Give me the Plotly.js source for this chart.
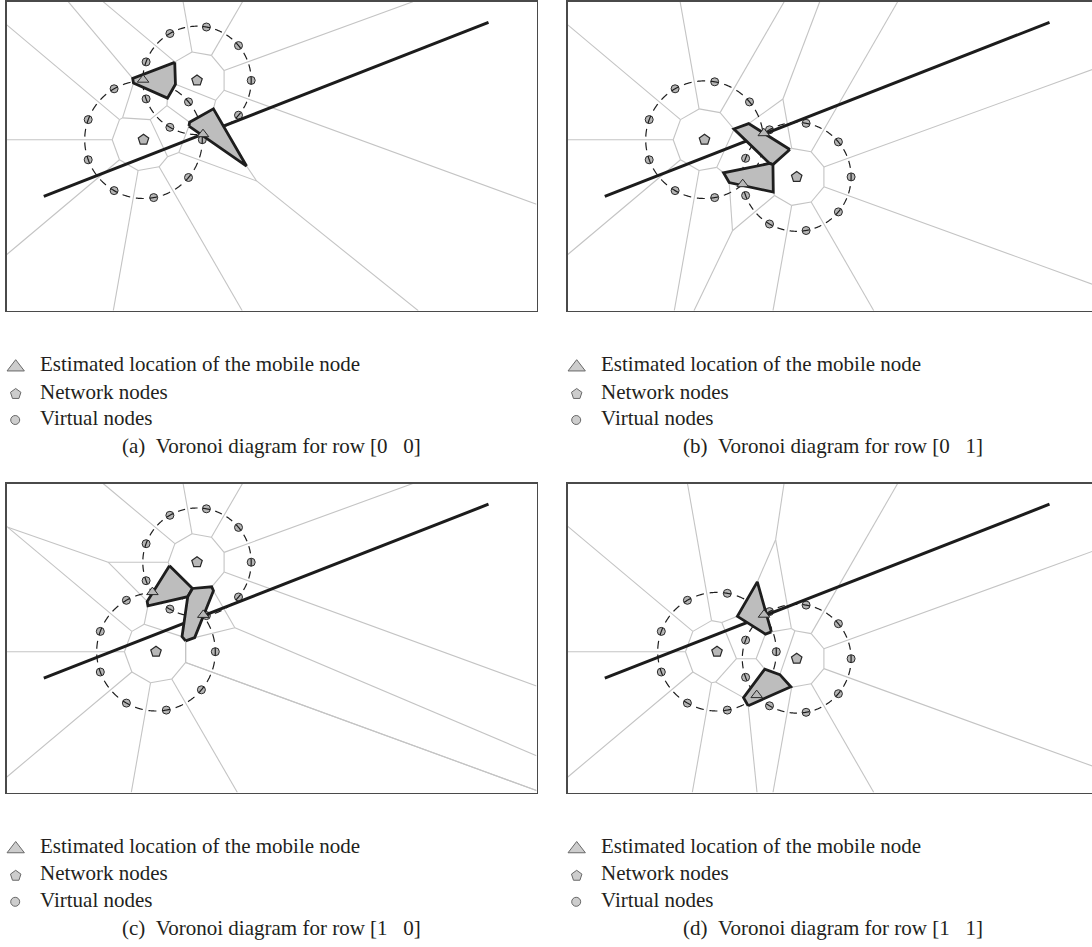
<!DOCTYPE html>
<html><head><meta charset="utf-8">
<script src="https://cdn.plot.ly/plotly-3.0.1.min.js"></script>
<style>html,body{margin:0;padding:0;background:#fff;}</style>
</head><body>
<div id="chart" style="width:1092px;height:947px;"></div>
<script>
// ---------------- DATA (panel units: origin = panel top-left, y grows downward) ----------------
// Network nodes (centres of the virtual-node rings)
const netNames = ['A', 'B', 'C', 'D'];
const net_x = [190.5, 137.0, 149.5, 229.2];
const net_y = [78.7, 138.0, 168.2, 175.2];
const ringRadius = [54.2, 58.8, 59.3, 54.4];

// Virtual nodes of each ring (angles 0,40,...,320 degrees)
const ringA_x = [244.7, 232.0, 199.9, 163.4, 139.6, 139.6, 163.4, 199.9, 232.0];
const ringA_y = [78.7, 43.9, 25.3, 31.8, 60.2, 97.2, 125.6, 132.1, 113.5];
const ringB_x = [195.8, 182.0, 147.2, 107.6, 81.7, 81.7, 107.6, 147.2, 182.0];
const ringB_y = [138.0, 100.2, 80.1, 87.1, 117.9, 158.1, 188.9, 195.9, 175.8];
const ringC_x = [208.8, 194.9, 159.8, 119.9, 93.8, 93.8, 119.9, 159.8, 194.9];
const ringC_y = [168.2, 130.1, 109.8, 116.8, 147.9, 188.5, 219.6, 226.6, 206.3];
const ringD_x = [283.6, 270.9, 238.6, 202.0, 178.1, 178.1, 202.0, 238.6, 270.9];
const ringD_y = [175.2, 140.2, 121.6, 128.1, 156.6, 193.8, 222.3, 228.8, 210.2];

// Panels
const panelLabels = ['(a)', '(b)', '(c)', '(d)'];
const panelRows = [[0, 0], [0, 1], [1, 0], [1, 1]];
const panelRings = [['A', 'B'], ['B', 'D'], ['A', 'C'], ['C', 'D']];
// Estimated locations of the mobile node (two per panel)
const est_x = [[136.6, 196.5], [196.3, 175.2], [145.9, 196.8], [196.5, 189.2]];
const est_y = [[78.0, 132.5], [131.5, 182.5], [108.6, 131.4], [131.2, 211.6]];
// Highlighted Voronoi cells: [ring, virtual-node index]
const filledCells = [[['B', 2], ['A', 7]], [['B', 0], ['B', 8]], [['C', 2], ['C', 1]], [['C', 1], ['C', 8]]];
// Mobile node trajectory
const track_x = [37.3, 482.0];
const track_y = [194.7, 20.7];

const legendLabels = ['Estimated location of the mobile node', 'Network nodes', 'Virtual nodes'];

// ---------------- LAYOUT GEOMETRY ----------------
const FIG_W = 1092, FIG_H = 947;
const PW = 530, PH = 309;
const panelLeft = [6.5, 567.5, 6.5, 567.5];
const panelTop = [1.7, 1.7, 483.5, 483.5];

const ringX = {A: ringA_x, B: ringB_x, C: ringC_x, D: ringD_x};
const ringY = {A: ringA_y, B: ringB_y, C: ringC_y, D: ringD_y};

// ---------------- VORONOI (half-plane clipping) ----------------
function clipPoly(poly, a, b, c) { // keep a*x+b*y <= c
  const out = [];
  const n = poly.length;
  for (let i = 0; i < n; i++) {
    const p = poly[i], q = poly[(i + 1) % n];
    const fp = a * p[0] + b * p[1] - c, fq = a * q[0] + b * q[1] - c;
    if (fp <= 0) out.push(p);
    if ((fp < 0 && fq > 0) || (fp > 0 && fq < 0)) {
      const t = fp / (fp - fq);
      out.push([p[0] + t * (q[0] - p[0]), p[1] + t * (q[1] - p[1])]);
    }
  }
  return out;
}
function voronoiCell(sites, i, W, H) {
  let poly = [[0, 0], [W, 0], [W, H], [0, H]];
  const xi = sites[i][0], yi = sites[i][1];
  for (let j = 0; j < sites.length; j++) {
    if (j === i) continue;
    const xj = sites[j][0], yj = sites[j][1];
    poly = clipPoly(poly, xj - xi, yj - yi, (xj * xj + yj * yj - xi * xi - yi * yi) / 2);
    if (poly.length === 0) break;
  }
  return poly;
}

const traces = [];
const layout = {
  width: FIG_W, height: FIG_H,
  margin: {l: 0, r: 0, t: 0, b: 0, pad: 0},
  paper_bgcolor: '#ffffff', plot_bgcolor: 'rgba(0,0,0,0)',
  showlegend: false, hovermode: false,
  annotations: []
};

const FONT = {family: '"Liberation Serif", "Times New Roman", serif', size: 21, color: '#231f20'};

for (let p = 0; p < 4; p++) {
  const xa = p === 0 ? 'x' : 'x' + (p + 1);
  const ya = p === 0 ? 'y' : 'y' + (p + 1);
  const left = panelLeft[p], top = panelTop[p];
  const visW = Math.min(PW, FIG_W - left);
  layout[p === 0 ? 'xaxis' : 'xaxis' + (p + 1)] = {
    domain: [left / FIG_W, (left + visW) / FIG_W], range: [0, visW], anchor: ya,
    showgrid: false, zeroline: false, showticklabels: false, ticks: '',
    showline: true, mirror: true, linecolor: '#4a4a4a', linewidth: 1.5, fixedrange: true
  };
  layout[p === 0 ? 'yaxis' : 'yaxis' + (p + 1)] = {
    domain: [1 - (top + PH) / FIG_H, 1 - top / FIG_H], range: [PH, 0], anchor: xa,
    showgrid: false, zeroline: false, showticklabels: false, ticks: '',
    showline: true, mirror: visW >= PW, linecolor: '#4a4a4a', linewidth: 1.5, fixedrange: true
  };

  // sites: 2 network nodes then 9 + 9 virtual nodes
  const rings = panelRings[p];
  const sites = [];
  rings.forEach(r => { const k = netNames.indexOf(r); sites.push([net_x[k], net_y[k]]); });
  rings.forEach(r => { for (let k = 0; k < ringX[r].length; k++) sites.push([ringX[r][k], ringY[r][k]]); });

  const cells = sites.map((s, i) => voronoiCell(sites, i, PW, PH));

  // unique interior edges
  const seen = new Set();
  const ex = [], ey = [];
  const eps = 0.01;
  const onBorder = (a, b) =>
    (Math.abs(a[0]) < eps && Math.abs(b[0]) < eps) || (Math.abs(a[0] - PW) < eps && Math.abs(b[0] - PW) < eps) ||
    (Math.abs(a[1]) < eps && Math.abs(b[1]) < eps) || (Math.abs(a[1] - PH) < eps && Math.abs(b[1] - PH) < eps);
  cells.forEach(poly => {
    for (let i = 0; i < poly.length; i++) {
      const a = poly[i], b = poly[(i + 1) % poly.length];
      if (onBorder(a, b)) continue;
      if (Math.hypot(a[0] - b[0], a[1] - b[1]) < 0.05) continue;
      const ka = a[0].toFixed(1) + ',' + a[1].toFixed(1), kb = b[0].toFixed(1) + ',' + b[1].toFixed(1);
      const key = ka < kb ? ka + '|' + kb : kb + '|' + ka;
      if (seen.has(key)) continue;
      seen.add(key);
      ex.push(a[0], b[0], null); ey.push(a[1], b[1], null);
    }
  });
  traces.push({x: ex, y: ey, xaxis: xa, yaxis: ya, type: 'scatter', mode: 'lines',
    line: {color: '#c4c4c4', width: 1.1}, hoverinfo: 'skip'});

  // virtual node markers
  const vx = [], vy = [];
  rings.forEach(r => { vx.push(...ringX[r]); vy.push(...ringY[r]); });
  traces.push({x: vx, y: vy, xaxis: xa, yaxis: ya, type: 'scatter', mode: 'markers',
    marker: {symbol: 'circle', size: 8, color: '#b5b5b5', line: {color: '#2a2a2a', width: 1}}, hoverinfo: 'skip'});

  // dashed rings (dash centred on every virtual node)
  rings.forEach(r => {
    const k = netNames.indexOf(r);
    const cx = net_x[k], cy = net_y[k], rad = ringRadius[k];
    const cxs = [], cys = [];
    for (let t = 0; t <= 720; t++) {
      const ang = t * Math.PI / 360;
      cxs.push(cx + rad * Math.cos(ang)); cys.push(cy - rad * Math.sin(ang));
    }
    const L = 2 * Math.PI * rad / 9;
    const h = (0.0965 * L).toFixed(2), g = (0.14 * L).toFixed(2), d = (0.193 * L).toFixed(2);
    traces.push({x: cxs, y: cys, xaxis: xa, yaxis: ya, type: 'scatter', mode: 'lines',
      line: {color: '#1e1e1e', width: 1.2, simplify: false,
        dash: `${h}px,${g}px,${d}px,${g}px,${d}px,${g}px,${h}px,0px`}, hoverinfo: 'skip'});
  });

  // trajectory
  traces.push({x: track_x, y: track_y, xaxis: xa, yaxis: ya, type: 'scatter', mode: 'lines',
    line: {color: '#1c1c1c', width: 3}, hoverinfo: 'skip'});

  // highlighted cells
  filledCells[p].forEach(fc => {
    const idx = 2 + rings.indexOf(fc[0]) * 9 + fc[1];
    const poly = cells[idx];
    const px = poly.map(q => q[0]), py = poly.map(q => q[1]);
    px.push(px[0]); py.push(py[0]);
    traces.push({x: px, y: py, xaxis: xa, yaxis: ya, type: 'scatter', mode: 'lines', fill: 'toself',
      fillcolor: '#bdbdbd', line: {color: '#1e1e1e', width: 2.8}, hoverinfo: 'skip'});
  });

  // estimated locations
  traces.push({x: est_x[p], y: est_y[p], xaxis: xa, yaxis: ya, type: 'scatter', mode: 'markers',
    marker: {symbol: 'triangle-up', size: 10, color: '#b8b8b8', line: {color: '#2a2a2a', width: 1}}, hoverinfo: 'skip'});

  // network nodes
  const nx = [], ny = [];
  rings.forEach(r => { const k = netNames.indexOf(r); nx.push(net_x[k]); ny.push(net_y[k]); });
  traces.push({x: nx, y: ny, xaxis: xa, yaxis: ya, type: 'scatter', mode: 'markers',
    marker: {symbol: 'pentagon', size: 11, color: '#b8b8b8', line: {color: '#2a2a2a', width: 1.2}}, hoverinfo: 'skip'});
}

// ---------------- LEGENDS & CAPTIONS (overlay axis in figure pixels) ----------------
layout.xaxis5 = {domain: [0, 1], range: [0, FIG_W], visible: false, fixedrange: true, anchor: 'y5'};
layout.yaxis5 = {domain: [0, 1], range: [FIG_H, 0], visible: false, fixedrange: true, anchor: 'x5'};

const lgX = [], lgY = [], lgSym = [], lgSize = [];
for (let p = 0; p < 4; p++) {
  const left = panelLeft[p], bottom = panelTop[p] + PH;
  const symX = left + 9.2, txtX = left + 31;
  lgX.push(symX, symX, symX - 0.5);
  lgY.push(bottom + 56.5, bottom + 83.3, bottom + 109.3);
  lgSym.push('triangle-up', 'pentagon', 'circle');
  lgSize.push(15, 11, 9);
  const rowsY = [bottom + 53.3, bottom + 80.8, bottom + 107.3];
  legendLabels.forEach((t, i) => layout.annotations.push({
    xref: 'x5', yref: 'y5', x: txtX, y: rowsY[i], text: t, showarrow: false,
    xanchor: 'left', yanchor: 'middle', font: FONT
  }));
  const r = panelRows[p];
  layout.annotations.push({
    xref: 'x5', yref: 'y5', x: left + PW / 2, y: bottom + 135.3,
    text: `${panelLabels[p]}\u00a0\u00a0Voronoi diagram for row [${r[0]}\u00a0\u00a0\u00a0${r[1]}]`,
    showarrow: false, xanchor: 'center', yanchor: 'middle', font: FONT
  });
}
traces.push({x: lgX, y: lgY, xaxis: 'x5', yaxis: 'y5', type: 'scatter', mode: 'markers',
  marker: {symbol: lgSym, size: lgSize, color: '#b8b8b8', line: {color: '#2a2a2a', width: 1}}, hoverinfo: 'skip'});

Plotly.newPlot('chart', traces, layout, {displayModeBar: false, staticPlot: true});
</script>
</body></html>
